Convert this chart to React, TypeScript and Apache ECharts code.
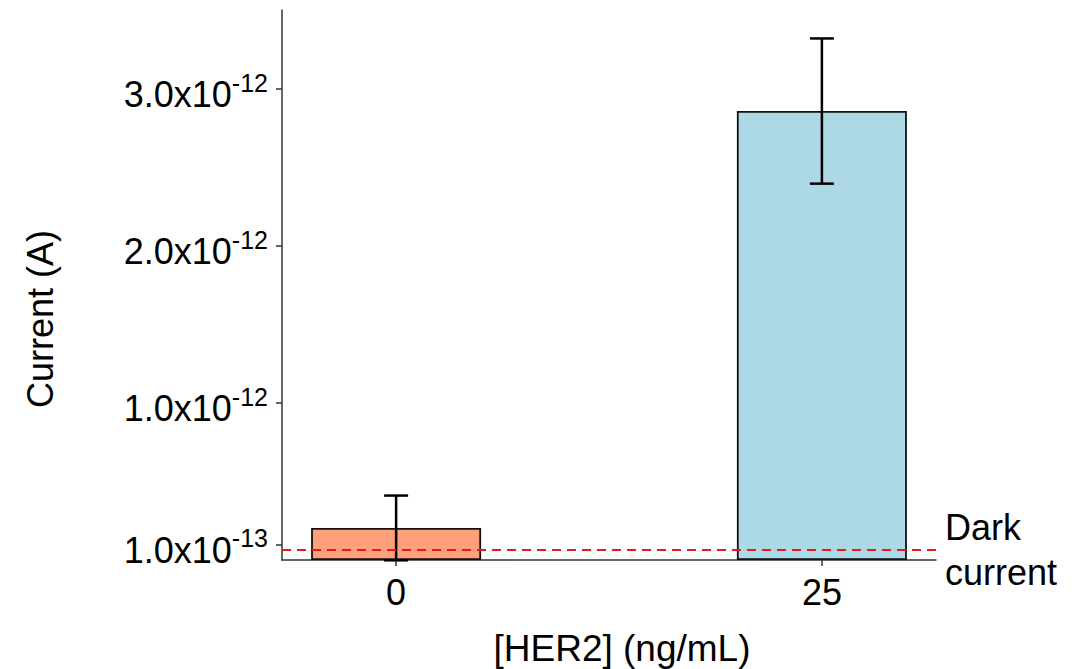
import React, { useEffect, useRef } from "react";
import * as echarts from "echarts";

// Values are in units of 1e-12 A
const categories = ["0", "25"];
const xPositions = [0, 1];
const means = [0.204, 2.857];
const errors = [0.206, 0.462];
const barColors = ["#FFA07A", "#ADD8E6"];
const darkCurrent = 0.066;
const yTickValues = [0.1, 1, 2, 3];
const yTickLabels = [["1.0x10", "-13"], ["1.0x10", "-12"], ["2.0x10", "-12"], ["3.0x10", "-12"]];

const FONT = "Liberation Sans, Arial, sans-serif";
const FS = 36;

export default function App() {
  const ref = useRef<HTMLDivElement>(null);
  useEffect(() => {
    const chart = echarts.init(ref.current!, null, { renderer: "svg" });
    const option: any = {
      animation: false,
      backgroundColor: "#ffffff",
      textStyle: { fontFamily: FONT },
      grid: { left: 282, right: 140, top: 10, bottom: 109, containLabel: false },
      xAxis: {
        type: "value",
        min: -0.268,
        max: 1.268,
        splitLine: { show: false },
        axisLine: { show: true, onZero: false, lineStyle: { color: "#333", width: 1.5 } },
        axisTick: { show: true, customValues: xPositions, length: 6, lineStyle: { color: "#333", width: 1.5 } },
        axisLabel: {
          customValues: xPositions,
          formatter: (v: number) => categories[Math.round(v)],
          fontSize: FS,
          color: "#000",
          fontFamily: FONT,
          margin: 14,
        },
      },
      yAxis: {
        type: "value",
        min: 0,
        max: 3.5,
        splitLine: { show: false },
        axisLine: { show: true, onZero: false, lineStyle: { color: "#333", width: 1.5 } },
        axisTick: { show: true, customValues: yTickValues, length: 6, lineStyle: { color: "#333", width: 1.5 } },
        axisLabel: {
          customValues: yTickValues,
          margin: 14,
          formatter: (v: number) => {
            let idx = 0;
            let best = Infinity;
            yTickValues.forEach((t, i) => {
              const d = Math.abs(t - v);
              if (d < best) { best = d; idx = i; }
            });
            const [b, s] = yTickLabels[idx];
            return `{b|${b}}{s|${s}}`;
          },
          rich: {
            b: { fontSize: FS, color: "#000", fontFamily: FONT, padding: [12, 0, 0, 0] },
            s: { fontSize: 25, color: "#000", fontFamily: FONT, padding: [0, 0, 12, 0] },
          },
        },
      },
      graphic: [
        {
          type: "text",
          x: 40,
          y: 319,
          rotation: Math.PI / 2,
          style: { text: "Current (A)", fontSize: FS, fill: "#000", fontFamily: FONT, align: "center", verticalAlign: "middle" },
        },
        {
          type: "text",
          x: 622,
          y: 648,
          style: { text: "[HER2] (ng/mL)", fontSize: 37, fill: "#000", fontFamily: FONT, align: "center", verticalAlign: "middle" },
        },
      ],
      series: [
        {
          type: "bar",
          barWidth: 170,
          data: xPositions.map((x, i) => ({
            value: [x, means[i]],
            itemStyle: { color: barColors[i], borderColor: "#111", borderWidth: 1.8 },
          })),
          markLine: {
            silent: true,
            symbol: ["none", "none"],
            z: 10,
            precision: 4,
            lineStyle: { color: "#E8191E", type: [9, 6], width: 2 },
            label: {
              show: true,
              position: "end",
              distance: 9,
              formatter: "Dark\ncurrent",
              fontSize: FS,
              lineHeight: 45,
              color: "#000",
              fontFamily: FONT,
              align: "left",
            },
            data: [{ yAxis: darkCurrent }],
          },
        },
        {
          type: "custom",
          z: 5,
          data: xPositions.map((x, i) => [x, means[i] - errors[i], means[i] + errors[i]]),
          renderItem: (params: any, api: any) => {
            const x = api.value(0);
            const lo = api.coord([x, api.value(1)]);
            const hi = api.coord([x, api.value(2)]);
            const half = 12;
            const style = { stroke: "#000", lineWidth: 2.5 };
            return {
              type: "group",
              children: [
                { type: "line", shape: { x1: hi[0], y1: hi[1], x2: lo[0], y2: lo[1] }, style },
                { type: "line", shape: { x1: hi[0] - half, y1: hi[1], x2: hi[0] + half, y2: hi[1] }, style },
                { type: "line", shape: { x1: lo[0] - half, y1: lo[1], x2: lo[0] + half, y2: lo[1] }, style },
              ],
            };
          },
        },
      ],
    };
    chart.setOption(option);
    return () => chart.dispose();
  }, []);
  return <div ref={ref} style={{ position: "fixed", left: 0, top: 0, width: 1076, height: 669 }} />;
}
